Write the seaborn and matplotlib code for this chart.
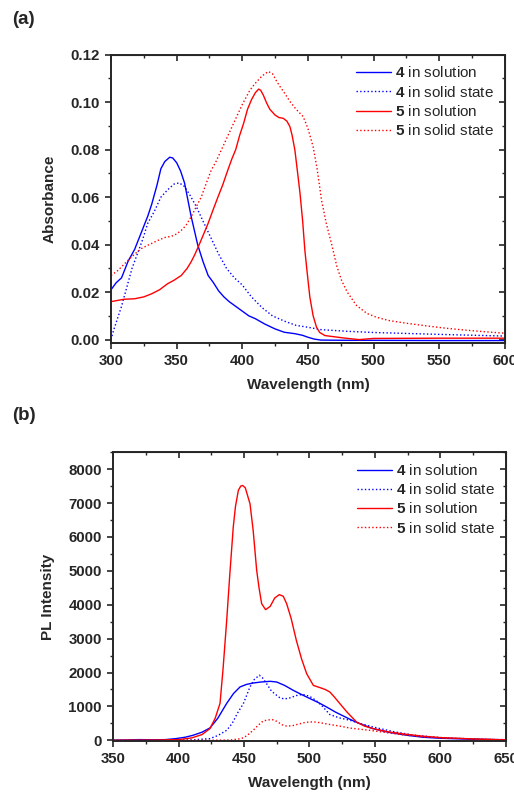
import numpy as np
import pandas as pd
import seaborn as sns
import matplotlib
matplotlib.use("Agg")
import matplotlib.pyplot as plt
from matplotlib.ticker import MultipleLocator

# (a) absorbance
wl_4_sol = [300, 304, 308, 313, 318, 323, 328, 331, 335, 338, 341, 344.7, 347, 350, 353, 356, 358.5,
            361, 363.5, 366, 370, 374, 378, 382, 386, 390, 395, 400, 405, 410, 417, 425, 432, 440,
            446, 450, 455, 460, 480, 500, 550, 600]
abs_4_sol = [0.021, 0.024, 0.026, 0.033, 0.038, 0.045, 0.052, 0.057, 0.065, 0.072, 0.075, 0.0768,
             0.0765, 0.0745, 0.071, 0.066, 0.059, 0.052, 0.046, 0.040, 0.033, 0.027, 0.024, 0.0205,
             0.018, 0.016, 0.014, 0.012, 0.010, 0.0088, 0.0066, 0.0045, 0.0031, 0.0025, 0.0018,
             0.001, 0.0002, -0.0002, -0.0003, -0.0003, -0.0004, -0.0004]

wl_4_solid = [300, 302, 305, 308, 312, 316, 320, 324, 328, 333, 338, 343, 348, 352, 356, 360, 365,
              370, 376, 382, 388, 394, 400, 407, 415, 423, 432, 441, 450, 460, 480, 500, 550, 600]
abs_4_solid = [0.0, 0.004, 0.009, 0.014, 0.022, 0.030, 0.036, 0.042, 0.049, 0.054, 0.060, 0.063,
               0.0655, 0.066, 0.0645, 0.061, 0.056, 0.050, 0.043, 0.036, 0.030, 0.026, 0.023,
               0.018, 0.0135, 0.010, 0.0078, 0.006, 0.0052, 0.0042, 0.0035, 0.003, 0.0022, 0.0015]

wl_5_sol = [300, 305, 310, 318, 325, 331, 337, 343, 348, 353.5, 358, 361, 364, 367.5, 371, 374, 378,
            381.5, 385, 389, 392, 395, 398, 401, 404, 407, 410, 412.5, 414, 416, 418.6, 421, 424.9,
            428, 431.2, 434, 436.3, 438, 440.1, 442, 444, 446, 447.7, 449.5, 451.5, 454, 456.6, 459,
            463, 470, 477, 489, 500, 550, 600]
abs_5_sol = [0.016, 0.0165, 0.017, 0.0172, 0.018, 0.0193, 0.021, 0.0235, 0.025, 0.027, 0.030, 0.0327,
             0.036, 0.0404, 0.045, 0.049, 0.055, 0.0601, 0.065, 0.0714, 0.076, 0.080, 0.086, 0.091,
             0.097, 0.101, 0.104, 0.1055, 0.105, 0.103, 0.0996, 0.097, 0.0946, 0.0935, 0.0932,
             0.092, 0.0897, 0.086, 0.0798, 0.071, 0.0616, 0.050, 0.0376, 0.028, 0.0179, 0.010,
             0.0052, 0.003, 0.0017, 0.0012, 0.0007, 0.0, 0.0005, 0.0006, 0.0006]

wl_5_solid = [300, 305, 313, 318, 323, 329, 335.8, 341, 346, 350, 353.5, 357, 361, 365, 368.8, 372,
              376.4, 380, 385, 390, 395, 400, 405.8, 410, 415, 419.8, 423, 426, 428.7, 432, 436.3,
              441, 446.4, 450, 454, 457, 460.4, 464, 468, 472, 475.7, 480, 487, 495, 502.3, 512,
              525, 540, 555, 570, 585, 600]
abs_5_solid = [0.027, 0.029, 0.0334, 0.036, 0.0383, 0.040, 0.0418, 0.043, 0.0435, 0.0445, 0.046,
               0.048, 0.0517, 0.056, 0.0601, 0.065, 0.0714, 0.075, 0.081, 0.087, 0.093, 0.099,
               0.105, 0.108, 0.111, 0.1129, 0.112, 0.109, 0.1066, 0.104, 0.1003, 0.097, 0.0939,
               0.089, 0.0812, 0.072, 0.0587, 0.049, 0.0404, 0.031, 0.0249, 0.020, 0.0144, 0.011,
               0.0094, 0.008, 0.0069, 0.0058, 0.0048, 0.0040, 0.0033, 0.0027]

# (b) photoluminescence
wl_4_sol_pl = [350, 360, 370, 380, 390, 398, 405, 411, 418, 424, 430, 436.8, 442, 447, 452, 457, 463,
               470, 475, 481, 487.6, 494, 500.4, 507, 513, 520, 531, 536, 548, 560, 574, 587, 600,
               625, 650]
pl_4_sol = [5, 10, 20, 15, 20, 50, 90, 147, 240, 364, 650, 1090, 1380, 1575, 1650, 1690, 1720, 1740,
            1720, 1620, 1475, 1350, 1230, 1110, 985, 830, 620, 530, 350, 240, 150, 90, 60, 30, 15]

wl_4_solid_pl = [350, 380, 410, 424, 430, 436.8, 441, 445, 449.5, 454.6, 458, 461.7, 464, 467.3, 471,
                 477.5, 481, 485, 490, 495, 500, 505, 510, 515.6, 523, 531, 540, 550, 565, 580, 600,
                 625, 650]
pl_4_solid = [0, 0, 10, 50, 140, 295, 500, 800, 1080, 1575, 1800, 1920, 1850, 1670, 1450, 1250, 1220,
              1250, 1320, 1355, 1300, 1180, 1000, 760, 660, 590, 480, 380, 250, 150, 80, 40, 15]

wl_5_sol_pl = [350, 380, 400, 410, 418, 424, 428, 431.7, 434, 436.8, 439, 441.8, 443.5, 445.7, 447.5,
               449, 451, 454.6, 457, 459.7, 461.5, 463.5, 466.5, 470, 473.5, 477, 480, 482.6, 486,
               490, 494, 497.9, 503, 508, 512, 515.6, 519, 523.3, 529, 536, 542, 548.7, 560, 574,
               587, 600, 625, 650]
pl_5_sol = [0, 5, 20, 70, 170, 345, 650, 1090, 2100, 3540, 4800, 6290, 6900, 7375, 7500, 7520, 7450,
            6980, 6200, 5015, 4500, 4030, 3855, 3950, 4200, 4298, 4250, 4030, 3600, 2950, 2400, 1965,
            1620, 1555, 1500, 1425, 1280, 1080, 820, 540, 420, 345, 250, 177, 120, 80, 40, 10]

wl_5_solid_pl = [350, 420, 440, 448, 452, 457, 461, 464.7, 468, 471.6, 475, 479, 482.6, 487, 492.7,
                 497, 503, 508, 515, 523, 531, 538, 546, 560, 574, 587, 600, 625, 650]
pl_5_solid = [0, 0, 10, 50, 130, 295, 450, 570, 600, 610, 560, 460, 420, 430, 490, 530, 545, 520,
              470, 420, 360, 330, 295, 220, 150, 100, 70, 40, 20]

labels = [r"$\mathbf{4}$ in solution", r"$\mathbf{4}$ in solid state",
          r"$\mathbf{5}$ in solution", r"$\mathbf{5}$ in solid state"]
colors = ["#0000ff", "#0000ff", "#ff0000", "#ff0000"]
styles = ["-", ":", "-", ":"]

sns.set_style("ticks")
plt.rcParams["font.family"] = ["Liberation Sans", "DejaVu Sans"]
plt.rcParams["mathtext.fontset"] = "custom"
plt.rcParams["mathtext.rm"] = "Liberation Sans"
plt.rcParams["mathtext.bf"] = "Liberation Sans:bold"

fig = plt.figure(figsize=(5.14, 7.92), dpi=100)
ax1 = fig.add_axes([0.216, 0.567, 0.766, 0.364])
ax2 = fig.add_axes([0.220, 0.064, 0.764, 0.365])


def draw(ax, curves, xlim, ylim, xmaj, xmin, ymaj, ymin, ylabel, yfmt):
    for (x, y), lab, c, ls in zip(curves, labels, colors, styles):
        df = pd.DataFrame({"x": x, "y": y})
        sns.lineplot(data=df, x="x", y="y", ax=ax, color=c, linestyle=ls, lw=1.0, label=lab)
    ax.set_xlim(*xlim)
    ax.set_ylim(*ylim)
    ax.xaxis.set_major_locator(MultipleLocator(xmaj))
    ax.xaxis.set_minor_locator(MultipleLocator(xmin))
    ax.yaxis.set_major_locator(MultipleLocator(ymaj))
    ax.yaxis.set_minor_locator(MultipleLocator(ymin))
    ax.yaxis.set_major_formatter(yfmt)
    ax.tick_params(which="major", direction="out", length=4.5, width=1.2, labelsize=10.8)
    ax.tick_params(which="minor", direction="out", length=2.5, width=1.0)
    for lab in ax.get_xticklabels() + ax.get_yticklabels():
        lab.set_fontweight("bold")
    for s in ax.spines.values():
        s.set_linewidth(1.4)
        s.set_visible(True)
    # mirrored inward ticks on top and right
    top = ax.secondary_xaxis("top")
    top.xaxis.set_major_locator(MultipleLocator(xmaj))
    top.xaxis.set_minor_locator(MultipleLocator(xmin))
    top.tick_params(which="major", direction="in", length=4.5, width=1.2, labeltop=False)
    top.tick_params(which="minor", direction="in", length=2.5, width=1.0)
    right = ax.secondary_yaxis("right")
    right.yaxis.set_major_locator(MultipleLocator(ymaj))
    right.yaxis.set_minor_locator(MultipleLocator(ymin))
    right.tick_params(which="major", direction="in", length=4.5, width=1.2, labelright=False)
    right.tick_params(which="minor", direction="in", length=2.5, width=1.0)
    ax.set_xlabel("Wavelength (nm)", fontsize=11, fontweight="bold", labelpad=7)
    ax.set_ylabel(ylabel, fontsize=11, fontweight="bold", labelpad=10)
    ax.legend(loc="upper right", frameon=False, fontsize=11, handlelength=2.3,
              handletextpad=0.3, labelspacing=0.28, borderaxespad=0.3, bbox_to_anchor=(1.0, 1.0))


draw(ax1, [(wl_4_sol, abs_4_sol), (wl_4_solid, abs_4_solid), (wl_5_sol, abs_5_sol),
           (wl_5_solid, abs_5_solid)],
     (300, 600), (-0.0014, 0.12), 50, 25, 0.02, 0.01, "Absorbance", "{x:.2f}")
draw(ax2, [(wl_4_sol_pl, pl_4_sol), (wl_4_solid_pl, pl_4_solid), (wl_5_sol_pl, pl_5_sol),
           (wl_5_solid_pl, pl_5_solid)],
     (350, 650), (-30, 8500), 50, 25, 1000, 500, "PL Intensity", "{x:.0f}")

fig.text(0.024, 0.975, "(a)", fontsize=13.5, fontweight="bold", va="center")
fig.text(0.024, 0.476, "(b)", fontsize=13.5, fontweight="bold", va="center")

fig.savefig("out.png", dpi=100)
